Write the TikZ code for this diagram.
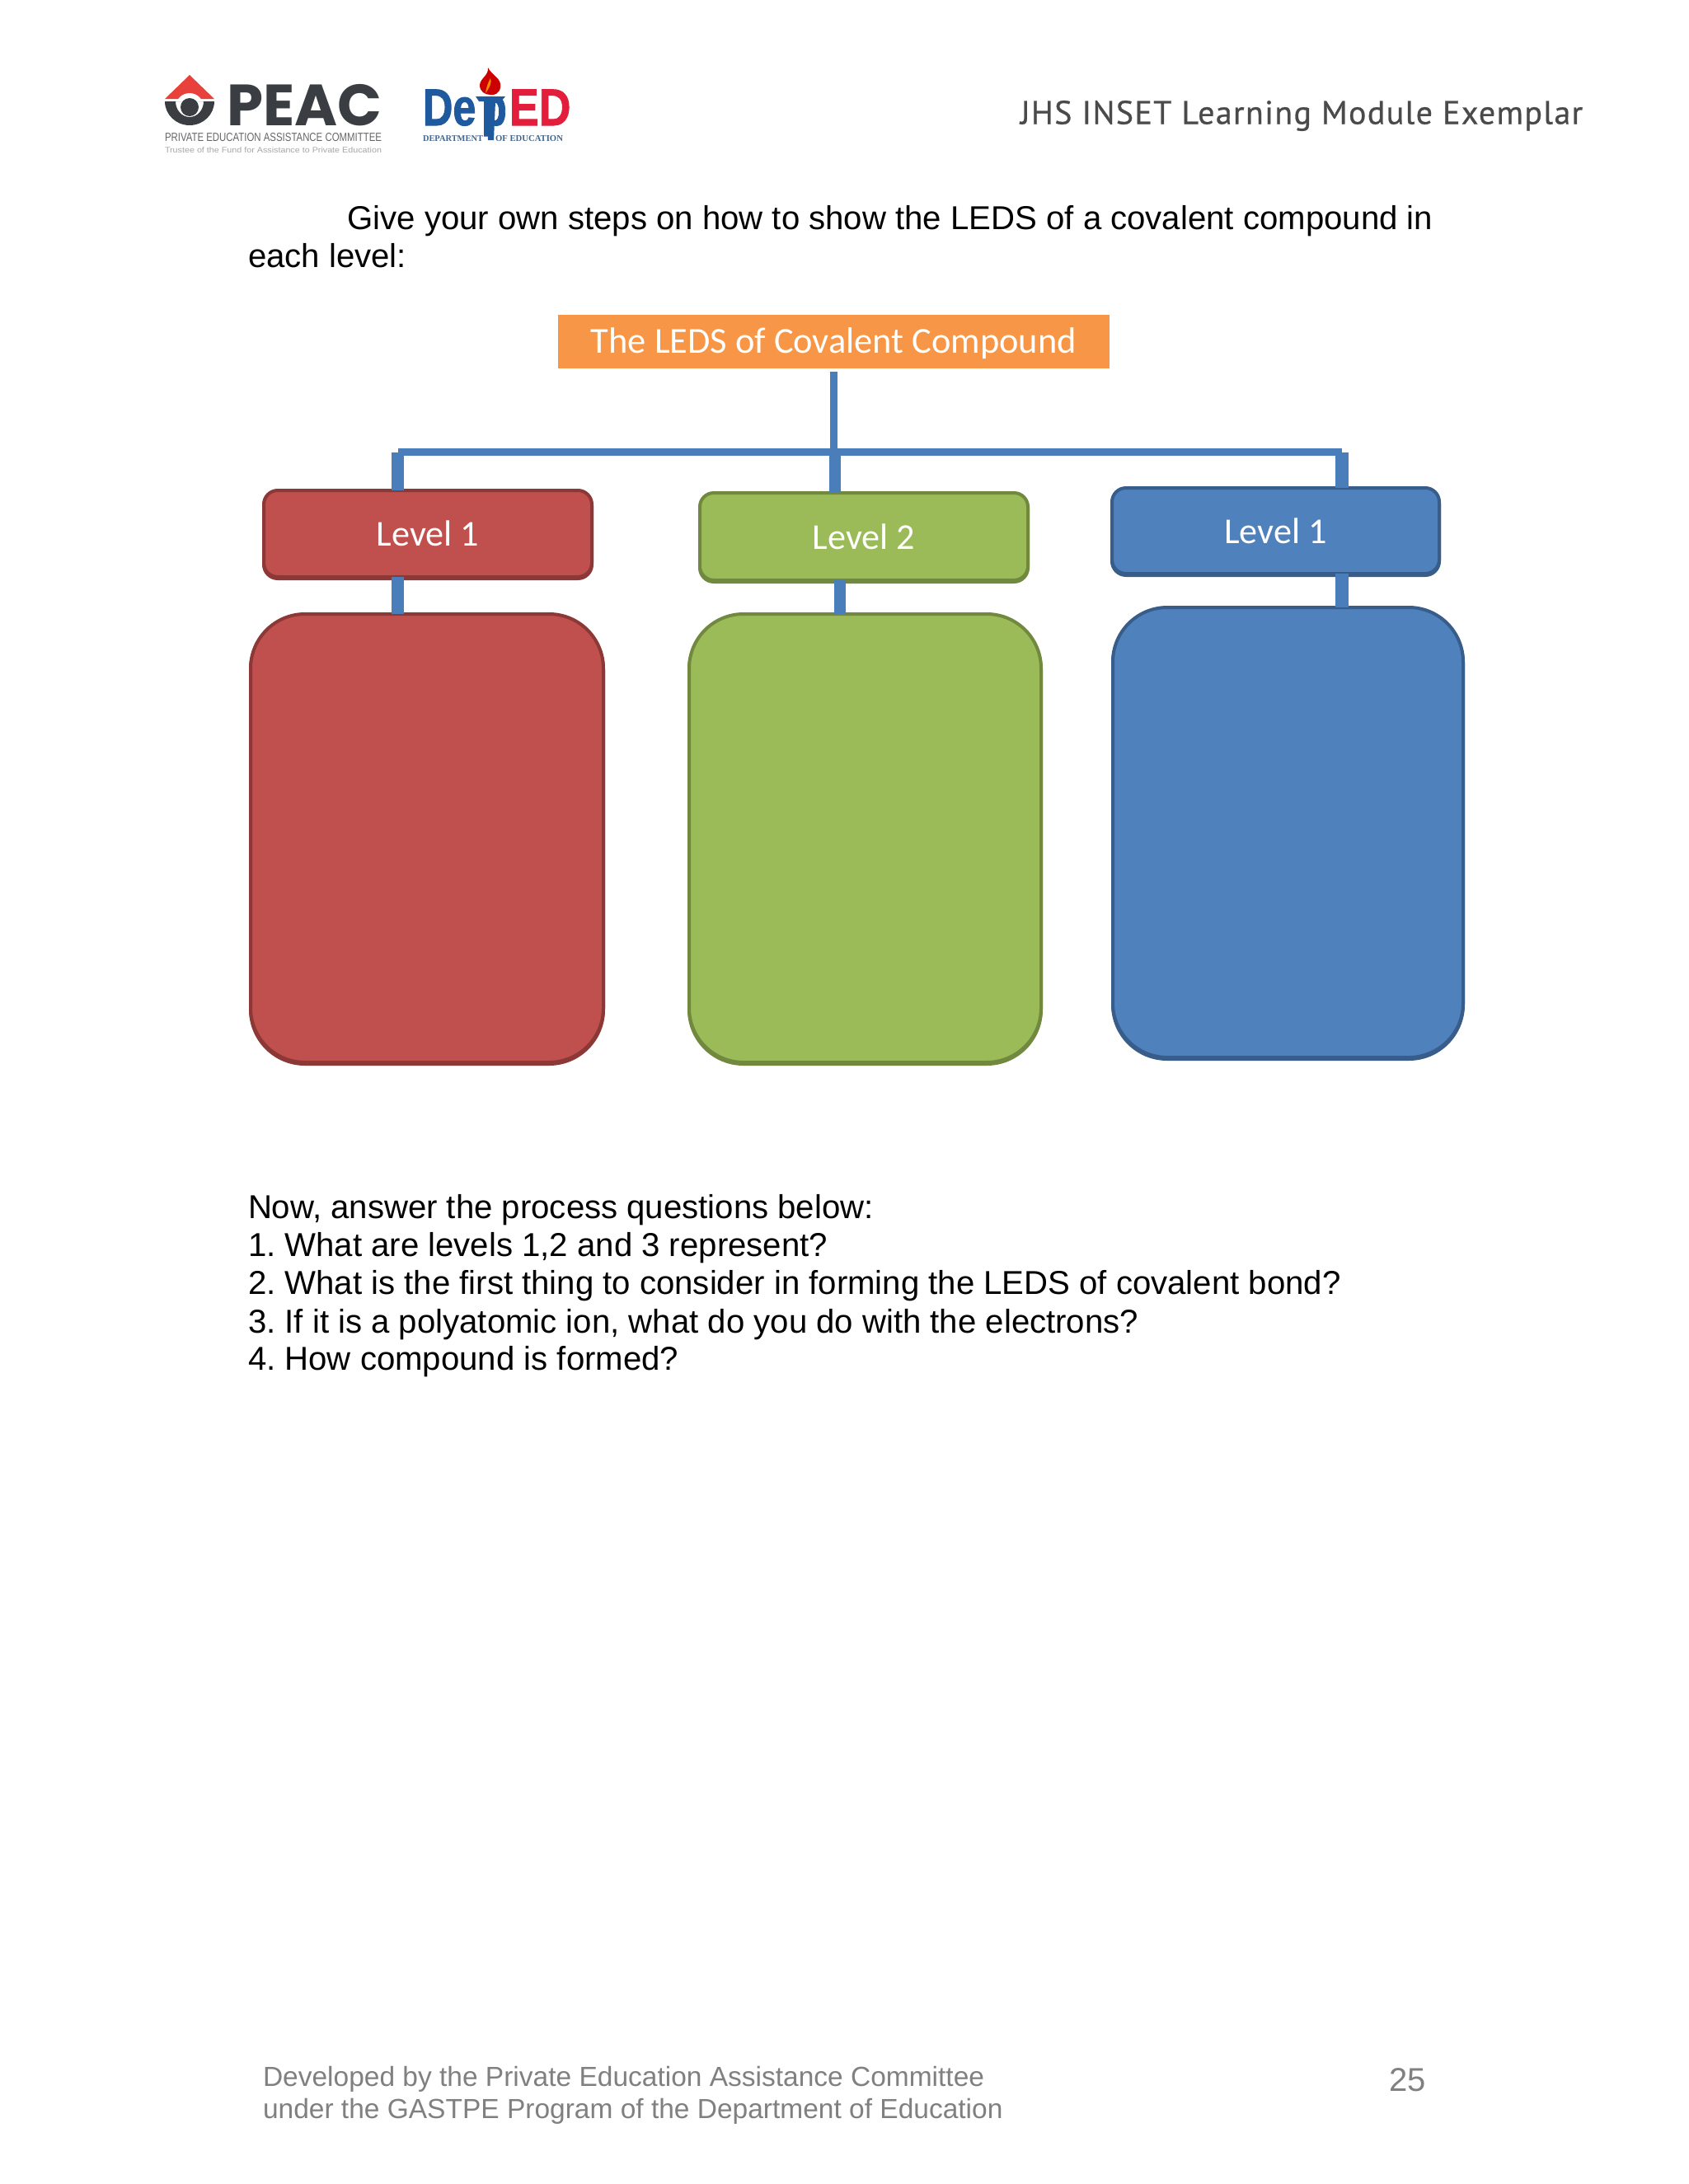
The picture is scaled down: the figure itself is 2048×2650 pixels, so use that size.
\documentclass[tikz,border=0pt]{standalone}
\usepackage{fontspec}
\setmainfont{Liberation Sans}
\newfontfamily\carlito{Carlito}
\newfontfamily\ptsans{PT Sans}
\newfontfamily\popp{Poppins}
\newfontfamily\libserif{Liberation Serif}
\newfontfamily\heavy[FakeBold=1.6]{Liberation Sans Bold}
\usetikzlibrary{calc}
\definecolor{cred}{HTML}{C0504D}\definecolor{credd}{HTML}{8C3836}
\definecolor{cgreen}{HTML}{9BBB59}\definecolor{cgreend}{HTML}{71893F}
\definecolor{cblue}{HTML}{4F81BD}\definecolor{cblued}{HTML}{385D8A}
\definecolor{corange}{HTML}{F79646}\definecolor{cconn}{HTML}{4A7EBB}
\definecolor{cdark}{HTML}{3A3D42}\definecolor{cfoot}{HTML}{808080}
\definecolor{chead}{HTML}{4A4A4A}\definecolor{cdepb}{HTML}{1F5A9E}\definecolor{cdepr}{HTML}{E31E3C}
\definecolor{croof}{HTML}{E8403A}
\tikzset{
 txt/.style={anchor=base west,inner sep=0pt,outer sep=0pt},
 body/.style={txt,text=black,font=\frenchspacing\fontsize{40.15}{46}\selectfont},
 foot/.style={txt,text=cfoot,font=\frenchspacing\fontsize{33.5}{38}\selectfont},
 lvl/.style={draw=#1d,fill=#1,line width=4pt,rounded corners=17pt,inner sep=0pt,outer sep=0pt,text=white,font=\carlito\fontsize{44.2}{48}\selectfont,
   preaction={draw=#1d,line width=4pt,transform canvas={yshift=-2pt}}},
 big/.style={draw=#1d,fill=#1,line width=4pt,rounded corners=66pt,inner sep=0pt,outer sep=0pt,
   preaction={draw=#1d,line width=4pt,transform canvas={yshift=-2pt}}},
 conn/.style={draw=cconn,line width=#1},
 conn/.default=14pt
}
\begin{document}
\begin{tikzpicture}[x=1pt,y=-1pt]
\useasboundingbox (0,0) rectangle (2048,2650);
% --- PEAC logo
\fill[croof] (230,91) -- (260,120) -- (200,120) -- cycle;
\fill[white] (230,130) circle[radius=17];
\fill[cdark,even odd rule] (200,123) arc[start angle=180,end angle=0,x radius=30,y radius=29] -- cycle
 (213,123) arc[start angle=180,end angle=0,x radius=17,y radius=19] -- cycle;
\fill[cdark] (230,130) circle[radius=11];
\node[txt,text=cdark] (peac) at (275,152) {\resizebox{188pt}{!}{\popp\bfseries PEAC}};
\node[txt,text=black!60] (peacsub) at (200,171) {\resizebox{263pt}{10pt}{\fontsize{14}{16}\selectfont PRIVATE EDUCATION ASSISTANCE COMMITTEE}};
\node[txt,text=black!35] (peactr) at (200,185) {\resizebox{263pt}{7pt}{\fontsize{10}{12}\selectfont Trustee of the Fund for Assistance to Private Education}};
% --- DepED logo
\node[txt,text=cdepb] (dep1) at (513,152) {\scalebox{0.8}[1]{\heavy\fontsize{63}{63}\selectfont De}};
\node[txt,text=cdepb] (dep2) at (584,152) {\scalebox{0.8}[1]{\heavy\fontsize{63}{63}\selectfont p}};
\node[txt,text=cdepr] (dep3) at (618,152) {\scalebox{0.85}[1]{\heavy\fontsize{63}{63}\selectfont ED}};
\fill[cdepb] (577,117) -- (613,117) -- (608,123) -- (601,123) -- (599,170) -- (592,170) -- (590,123) -- (581,123) -- cycle;
\fill[red!80!black] (592,82) .. controls (597,92) and (609,95) .. (607,106) .. controls (606,113) and (600,116) .. (595,115) .. controls (588,115) and (582,111) .. (582,103) .. controls (583,94) and (593,92) .. (592,82) -- cycle;
\fill[orange!90!yellow] (595,95) .. controls (597,100) and (594,106) .. (589,113) .. controls (590,106) and (592,100) .. (595,95) -- cycle;
\node[txt,text=cdepb!70!black!80] (depa) at (513,171) {\resizebox{73pt}{!}{\libserif\fontsize{12}{14}\selectfont\bfseries DEPARTMENT}};
\node[txt,text=cdepb!70!black!80] (depb) at (601,171) {\resizebox{82pt}{!}{\libserif\fontsize{12}{14}\selectfont\bfseries OF EDUCATION}};
% --- header
\node[txt,text=chead,font=\ptsans\fontsize{40}{46}\selectfont\addfontfeature{LetterSpace=3.4,FakeBold=0.6}] (head) at (1238,150.5) {JHS INSET Learning Module Exemplar};
% --- intro text
\node[body] (l1) at (421.5,278) {Give your own steps on how to show the LEDS of a covalent compound in};
\node[body] (l2) at (301,324) {each level:};
% --- diagram nodes
\node[fill=corange,minimum width=669pt,minimum height=65pt,inner sep=0pt,outer sep=0pt,text=white,font=\carlito\fontsize{44.4}{48}\selectfont] (title) at (1011.5,414.5) {\raisebox{-2.5pt}[30pt][8pt]{The LEDS of Covalent Compound}};
\node[lvl=cred,minimum width=398pt,minimum height=105pt] (la) at (519,647.5) {Level 1};
\node[lvl=cgreen,minimum width=398pt,minimum height=106pt] (lb) at (1048,651) {Level 2};
\node[lvl=cblue,minimum width=397pt,minimum height=104pt] (lc) at (1547.5,644) {Level 1};
\node[big=cred,minimum width=428pt,minimum height=544pt] (ba) at (518,1017) {};
\node[big=cgreen,minimum width=427pt,minimum height=544pt] (bb) at (1049.5,1017) {};
\node[big=cblue,minimum width=425pt,minimum height=546pt] (bc) at (1562.5,1010) {};
% --- connectors
\coordinate (busL) at (482.5,548.5);
\coordinate (busC) at (1011,548.5);
\coordinate (busR) at (1628,548.5);
\coordinate (stemTop) at (1011,451);
\coordinate (busD) at (1013,548.5);
\coordinate (midOut) at (1019,704);
\draw[conn=9pt] (stemTop) -- (busC);
\draw[conn=9pt] (busL) -- (busR);
\draw[conn=15pt] (busL) -- (busL |- la.north);
\draw[conn=14pt] (busD) -- (busD |- lb.north);
\draw[conn=16pt] (busR) -- (busR |- lc.north);
\draw[conn=15pt] (busL |- la.south) -- (busL |- ba.north);
\draw[conn=14pt] (midOut) -- (midOut |- bb.north);
\draw[conn=16pt] (busR |- lc.south) -- (busR |- bc.north);
% --- questions
\node[body] (q0) at (301,1478) {Now, answer the process questions below:};
\node[body] (q1) at (301,1524) {1. What are levels 1,2 and 3 represent?};
\node[body] (q2) at (301,1570) {2. What is the first thing to consider in forming the LEDS of covalent bond?};
\node[body] (q3) at (301,1617) {3. If it is a polyatomic ion, what do you do with the electrons?};
\node[body] (q4) at (301,1662) {4. How compound is formed?};
% --- footer
\node[foot] (f1) at (319,2531) {Developed by the Private Education Assistance Committee};
\node[foot] (f2) at (319,2570) {under the GASTPE Program of the Department of Education};
\node[foot,font=\fontsize{40}{46}\selectfont] (pg) at (1685,2537) {25};
\end{tikzpicture}
\end{document}
